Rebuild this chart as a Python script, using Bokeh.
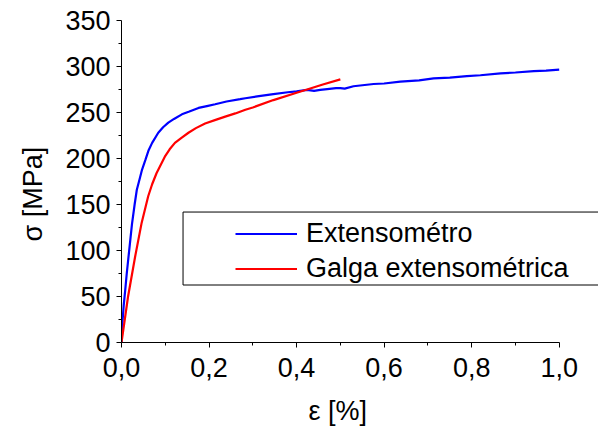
import numpy as np
from bokeh.plotting import figure
from bokeh.models import (Range1d, FixedTicker, Legend, LegendItem, BoxAnnotation,
                          Title, CustomJSTickFormatter)
from bokeh.embed import file_html
from bokeh.resources import INLINE

# ---- data ----
ext_x = [0.000, 0.001, 0.002, 0.005, 0.0085, 0.012, 0.016, 0.020, 0.024, 0.030,
         0.035, 0.041, 0.047, 0.055, 0.062, 0.070, 0.084, 0.095, 0.107, 0.120,
         0.138, 0.155, 0.176, 0.195, 0.214, 0.240, 0.271, 0.283, 0.310, 0.347,
         0.380, 0.400, 0.424, 0.440, 0.454, 0.470, 0.490, 0.500, 0.510, 0.530,
         0.576, 0.600, 0.637, 0.680, 0.713, 0.750, 0.789, 0.820, 0.866, 0.900,
         0.942, 0.970, 1.000]
ext_y = [0, 12, 21, 40, 57, 75, 93, 111, 129, 150,
         166, 177, 188, 199, 209, 217, 228, 234, 239, 243,
         248, 251, 255, 257, 259, 262, 264.5, 265.5, 267.5, 270,
         272, 273, 274.5, 273.5, 274.5, 275.5, 276.5, 276.5, 276, 278.5,
         281, 281.5, 283.5, 285, 287, 288, 289.5, 290.5, 292.5, 293.5,
         295, 295.5, 296.5]

gal_x = [0.000, 0.015, 0.031, 0.046, 0.061, 0.070, 0.080, 0.099, 0.110, 0.122,
         0.137, 0.153, 0.170, 0.191, 0.215, 0.237, 0.260, 0.283, 0.300, 0.347,
         0.400, 0.424, 0.460, 0.500]
gal_y = [0, 50, 93, 130, 159, 172, 184, 202, 210, 217,
         222.5, 228, 233, 238, 242, 245.5, 249, 253, 255.5, 263.5,
         271.5, 275, 280.5, 286]

series_names = ["Extensométro", "Galga extensométrica"]
x_ticks = [0.0, 0.2, 0.4, 0.6, 0.8, 1.0]
x_tick_labels = ["0,0", "0,2", "0,4", "0,6", "0,8", "1,0"]
x_minor = [0.1, 0.3, 0.5, 0.7, 0.9]
y_ticks = [0, 50, 100, 150, 200, 250, 300, 350]
y_minor = [25, 75, 125, 175, 225, 275, 325]
x_title = "ε [%]"
y_title = "σ [MPa]"

FONT = "Liberation Sans"
FS = "27px"

PX_PER_X = 437.7          # pixels per unit strain on screen
FRAME_W = 477
p = figure(frame_width=FRAME_W, frame_height=322,
           min_border_left=121, min_border_right=0,
           min_border_top=20, min_border_bottom=88,
           x_range=Range1d(0, FRAME_W / PX_PER_X), y_range=Range1d(0, 350),
           output_backend="svg", toolbar_location=None)
p.grid.visible = False
p.outline_line_color = None
p.background_fill_color = "white"
p.border_fill_color = "white"

for ax in (p.xaxis[0], p.yaxis[0]):
    ax.axis_line_color = "black"
    ax.axis_line_width = 1
    ax.major_tick_line_color = "black"
    ax.minor_tick_line_color = "black"
    ax.major_tick_in = 0
    ax.major_tick_out = 5
    ax.minor_tick_in = 0
    ax.minor_tick_out = 3
    ax.major_label_text_font = FONT
    ax.major_label_text_font_size = FS
    ax.major_label_text_color = "black"

p.xaxis.bounds = (x_ticks[0], x_ticks[-1])
p.xaxis.ticker = FixedTicker(ticks=x_ticks, minor_ticks=x_minor)
p.yaxis.ticker = FixedTicker(ticks=y_ticks, minor_ticks=y_minor)
p.xaxis.formatter = CustomJSTickFormatter(
    args=dict(vals=x_ticks, labels=x_tick_labels),
    code="""
    let best = 0;
    for (let i = 0; i < vals.length; i++) {
        if (Math.abs(vals[i] - tick) < Math.abs(vals[best] - tick)) best = i;
    }
    return labels[best];
    """)
p.xaxis.major_label_standoff = 10
p.yaxis.major_label_standoff = 6

# legend frame
box = BoxAnnotation(left=0.1406, right=1.2, top=141.8, bottom=62.5,
                    fill_color="white", fill_alpha=1.0,
                    line_color="black", line_alpha=1.0, line_width=1,
                    level="underlay")
p.add_layout(box)

r1 = p.line(ext_x, ext_y, line_color="#0000FF", line_width=2.2)
r2 = p.line(gal_x, gal_y, line_color="#FF0000", line_width=2.2)

legend = Legend(items=[LegendItem(label=series_names[0], renderers=[r1]),
                       LegendItem(label=series_names[1], renderers=[r2])],
                location=(114, 56.2),
                border_line_alpha=0, background_fill_alpha=0,
                padding=0, spacing=0, margin=0,
                glyph_width=62, glyph_height=35, label_height=35,
                label_standoff=9,
                label_text_font=FONT, label_text_font_size=FS,
                label_text_color="black")
p.add_layout(legend)

p.add_layout(Title(text=y_title, align="left", offset=101, standoff=30,
                   text_font=FONT, text_font_size=FS, text_font_style="normal",
                   text_color="black"), "left")
p.add_layout(Title(text=x_title, align="left", offset=187, standoff=28,
                   text_font=FONT, text_font_size=FS, text_font_style="normal",
                   text_color="black"), "below")

open("out.html", "w").write(file_html(p, INLINE))
